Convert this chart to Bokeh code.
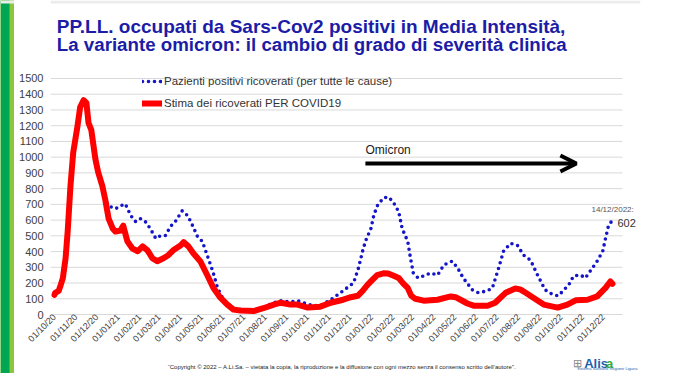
import math
import pandas as pd
from bokeh.plotting import figure
from bokeh.layouts import row, column
from bokeh.models import (Range1d, FixedTicker, DatetimeTickFormatter, Label, Arrow,
                          OpenHead, Legend, LegendItem, ColumnDataSource)
from bokeh.embed import file_html
from bokeh.resources import INLINE

# ---------------- data ----------------
red_dates = ["2020-10-01", "2020-10-02", "2020-10-07", "2020-10-10", "2020-10-13", "2020-10-17",
             "2020-10-20", "2020-10-24", "2020-10-28", "2020-11-03", "2020-11-07", "2020-11-12",
             "2020-11-16", "2020-11-19", "2020-11-23", "2020-11-29", "2020-12-03", "2020-12-09",
             "2020-12-13", "2020-12-18", "2020-12-24", "2020-12-28", "2021-01-04", "2021-01-08",
             "2021-01-14", "2021-01-21", "2021-01-29", "2021-02-05", "2021-02-12", "2021-02-19",
             "2021-02-26", "2021-03-07", "2021-03-14", "2021-03-21", "2021-04-01", "2021-04-05",
             "2021-04-12", "2021-04-19", "2021-04-29", "2021-05-09", "2021-05-18", "2021-05-28",
             "2021-06-07", "2021-06-16", "2021-06-26", "2021-07-15", "2021-07-29", "2021-08-13",
             "2021-08-23", "2021-09-06", "2021-09-16", "2021-10-01", "2021-10-19", "2021-11-03",
             "2021-11-21", "2021-12-02", "2021-12-12", "2021-12-19", "2021-12-26", "2022-01-02",
             "2022-01-09", "2022-01-18", "2022-01-25", "2022-02-01", "2022-02-09", "2022-02-16",
             "2022-02-22", "2022-02-27", "2022-03-05", "2022-03-17", "2022-04-06", "2022-04-25",
             "2022-05-02", "2022-05-09", "2022-05-19", "2022-05-28", "2022-06-17", "2022-06-28",
             "2022-07-13", "2022-07-27", "2022-08-03", "2022-08-11", "2022-08-22", "2022-09-06",
             "2022-09-26", "2022-10-10", "2022-10-22", "2022-11-08", "2022-11-22", "2022-12-04",
             "2022-12-11", "2022-12-14"]
red_values = [125, 138, 150, 188, 230, 358,
              527, 816, 1030, 1193, 1318, 1362,
              1345, 1218, 1174, 986, 904, 816,
              734, 609, 546, 527, 534, 565,
              465, 421, 402, 433, 408, 358,
              339, 358, 377, 408, 440, 460,
              433, 389, 339, 251, 169, 107,
              63, 31, 25, 22, 40, 63,
              75, 63, 63, 44, 50, 75,
              94, 110, 119, 150, 188, 220,
              251, 262, 260, 248, 232, 195,
              169, 120, 100, 88, 94, 115,
              110, 94, 70, 56, 56, 75,
              138, 165, 160, 138, 107, 63,
              44, 63, 90, 94, 115, 169,
              210, 195]

blue_dates = ["2020-10-01", "2020-10-02", "2020-10-07", "2020-10-10", "2020-10-13", "2020-10-17",
              "2020-10-20", "2020-10-24", "2020-10-28", "2020-11-03", "2020-11-07", "2020-11-12",
              "2020-11-16", "2020-11-19", "2020-11-23", "2020-11-29", "2020-12-03", "2020-12-09",
              "2020-12-13", "2020-12-18", "2020-12-21", "2020-12-28", "2021-01-04", "2021-01-11",
              "2021-01-19", "2021-01-26", "2021-02-02", "2021-02-09", "2021-02-16", "2021-02-24",
              "2021-03-03", "2021-03-10", "2021-03-17", "2021-03-24", "2021-04-03", "2021-04-11",
              "2021-04-18", "2021-04-25", "2021-05-02", "2021-05-09", "2021-05-17", "2021-05-24",
              "2021-05-31", "2021-06-09", "2021-06-19", "2021-07-03", "2021-07-18", "2021-08-01",
              "2021-08-13", "2021-08-23", "2021-09-06", "2021-09-16", "2021-10-05", "2021-10-19",
              "2021-11-03", "2021-11-21", "2021-12-06", "2021-12-13", "2021-12-20", "2021-12-26",
              "2021-12-30", "2022-01-04", "2022-01-09", "2022-01-18", "2022-01-25", "2022-02-01",
              "2022-02-09", "2022-02-14", "2022-02-22", "2022-02-26", "2022-03-02", "2022-03-09",
              "2022-03-17", "2022-03-27", "2022-04-06", "2022-04-15", "2022-04-20", "2022-04-27",
              "2022-05-05", "2022-05-13", "2022-05-26", "2022-06-04", "2022-06-17", "2022-06-24",
              "2022-07-03", "2022-07-10", "2022-07-20", "2022-07-30", "2022-08-08", "2022-08-18",
              "2022-08-28", "2022-09-08", "2022-09-19", "2022-09-27", "2022-10-04", "2022-10-12",
              "2022-10-19", "2022-10-29", "2022-11-05", "2022-11-12", "2022-11-22", "2022-11-30",
              "2022-12-04", "2022-12-08", "2022-12-14"]
blue_values = [125, 138, 150, 188, 230, 358,
               527, 816, 1030, 1193, 1318, 1362,
               1345, 1218, 1174, 986, 904, 816,
               734, 690, 684, 672, 690, 703,
               628, 590, 609, 590, 546, 483,
               502, 502, 559, 590, 659, 628,
               565, 496, 465, 377, 276, 169,
               107, 63, 35, 28, 28, 50,
               75, 88, 80, 88, 60, 55,
               94, 151, 201, 295, 421, 502,
               527, 628, 690, 741, 747, 716,
               653, 546, 465, 358, 264, 232,
               245, 264, 251, 314, 326, 339,
               295, 232, 157, 138, 151, 169,
               295, 402, 452, 440, 377, 345,
               251, 157, 126, 119, 151, 188,
               245, 251, 232, 276, 339, 402,
               483, 559, 602]

tick_dates = ["2020-10-01", "2020-11-01", "2020-12-01", "2021-01-01", "2021-02-01", "2021-03-01",
              "2021-04-01", "2021-05-01", "2021-06-01", "2021-07-01", "2021-08-01", "2021-09-01",
              "2021-10-01", "2021-11-01", "2021-12-01", "2022-01-01", "2022-02-01", "2022-03-01",
              "2022-04-01", "2022-05-01", "2022-06-01", "2022-07-01", "2022-08-01", "2022-09-01",
              "2022-10-01", "2022-11-01", "2022-12-01"]
y_ticks = [0, 100, 200, 300, 400, 500, 600, 700, 800, 900, 1000, 1100, 1200, 1300, 1400, 1500]

title_lines = ["PP.LL. occupati da Sars-Cov2 positivi in Media Intensità,",
               "La variante omicron: il cambio di grado di severità clinica"]
blue_label = "Pazienti positivi ricoverati (per tutte le cause)"
red_label = "Stima dei ricoverati PER COVID19"
omicron_start, omicron_end, omicron_level = "2021-12-23", "2022-10-23", 960
last_date_text, last_value_text = "14/12/2022:", "602"
copyright_text = ("\u201cCopyright \u00a9 2022 \u2013 A.Li.Sa. \u2013 vietata la copia, la riproduzione "
                  "e la diffusione con ogni mezzo senza il consenso scritto dell\u2019autore\u201d.")

FONT = "Liberation Sans"
X_START, X_END, GRID_END = "2020-09-25 06:00", "2023-01-23 10:00", "2022-12-28 10:00"


def ms(d):
    return pd.Timestamp(d).value / 1e6


def canvas(w, h, bg="white"):
    f = figure(width=w, height=h, x_range=Range1d(0, w), y_range=Range1d(0, h),
               output_backend="svg", toolbar_location=None, min_border=0)
    f.axis.visible = False
    f.grid.grid_line_color = None
    f.outline_line_color = None
    f.background_fill_color = bg
    f.border_fill_color = bg
    return f


def clabel(f, ox, oy, text, X, Y, size, color, bold=False, align="left"):
    # X, Y are picture pixels; (ox, oy) is the canvas' top-left in the picture
    f.add_layout(Label(x=X - ox, y=f.height - (Y - oy), text=text, text_font=FONT,
                       text_font_size=f"{size}px", text_color=color,
                       text_font_style="bold" if bold else "normal",
                       text_align=align, text_baseline="alphabetic"))


# ---------------- green side bar ----------------
side = canvas(14, 373, bg="#8cc63f")
side.quad(left=[0], right=[9], bottom=[0], top=[373], fill_color="#00a651", line_color=None)
side.quad(left=[0], right=[14], bottom=[370], top=[373], fill_color="#ececec", line_color=None)

# ---------------- title ----------------
top = canvas(650, 70)
top.quad(left=[0], right=[650], bottom=[67], top=[70], fill_color="#ececec", line_color=None)
clabel(top, 14, 0, title_lines[0], 21, 26, 19, "#1c1ca6", bold=True)
clabel(top, 14, 0, title_lines[1], 21, 44, 18.7, "#1c1ca6", bold=True)

# ---------------- main chart ----------------
red_src = ColumnDataSource(dict(x=pd.to_datetime(red_dates), y=red_values))
blue_src = ColumnDataSource(dict(x=pd.to_datetime(blue_dates), y=blue_values))

MAIN_BOTTOM = 350
px_per_unit = 239 / 1500.0
p = figure(width=650, height=MAIN_BOTTOM - 70, output_backend="svg", toolbar_location=None,
           x_axis_type="datetime",
           x_range=Range1d(ms(X_START), ms(X_END)),
           y_range=Range1d(-1 / px_per_unit, 1500 + 1 / px_per_unit),
           min_border_left=36, min_border_right=24, min_border_top=7,
           min_border_bottom=MAIN_BOTTOM - 318)
p.outline_line_color = None
p.background_fill_color = "white"
p.border_fill_color = "white"
p.grid.grid_line_color = None

# horizontal grid lines (Excel plot area ends before the last annotation)
p.segment(x0=[ms(X_START)] * len(y_ticks), x1=[ms(GRID_END)] * len(y_ticks),
          y0=y_ticks, y1=y_ticks, line_color="#d9d9d9", line_width=1)

p.yaxis.ticker = FixedTicker(ticks=y_ticks)
p.yaxis.axis_line_color = None
p.yaxis.major_tick_line_color = None
p.yaxis.minor_tick_line_color = None
p.yaxis.major_tick_out = 0
p.yaxis.major_tick_in = 0
p.yaxis.major_label_text_font = FONT
p.yaxis.major_label_text_font_size = "11px"
p.yaxis.major_label_text_color = "#404040"
p.yaxis.major_label_standoff = 7

p.xaxis.ticker = FixedTicker(ticks=[ms(d) for d in tick_dates])
fmt = "%d/%m/%y"
p.xaxis.formatter = DatetimeTickFormatter(milliseconds=fmt, seconds=fmt, minsec=fmt, minutes=fmt,
                                          hourmin=fmt, hours=fmt, days=fmt, months=fmt, years=fmt)
p.xaxis.axis_line_color = None
p.xaxis.major_tick_line_color = None
p.xaxis.minor_tick_line_color = None
p.xaxis.major_tick_out = 0
p.xaxis.major_tick_in = 0
p.xaxis.major_label_orientation = math.pi / 4
p.xaxis.major_label_text_font = FONT
p.xaxis.major_label_text_font_size = "9px"
p.xaxis.major_label_text_color = "#404040"
p.xaxis.major_label_standoff = 0

blue_r = p.line("x", "y", source=blue_src, line_color="#1414c8", line_width=3.6,
                line_dash="0 6", line_cap="round")
red_r = p.line("x", "y", source=red_src, line_color="#ff0000", line_width=6,
               line_join="round", line_cap="round")

legend = Legend(items=[LegendItem(label=blue_label, renderers=[blue_r]),
                       LegendItem(label=red_label, renderers=[red_r])],
                location=(92, 202), orientation="vertical",
                background_fill_alpha=0, border_line_color=None, padding=0, margin=0,
                spacing=2, glyph_width=20, glyph_height=20, label_height=20,
                label_standoff=2, label_text_font=FONT, label_text_font_size="11.5px",
                label_text_color="#333333")
p.add_layout(legend)

p.add_layout(Arrow(x_start=ms(omicron_start), y_start=omicron_level,
                   x_end=ms(omicron_end), y_end=omicron_level,
                   line_width=4, line_color="black",
                   end=OpenHead(size=16, line_width=4, line_color="black")))
p.add_layout(Label(x=ms(omicron_start), y=omicron_level + 38, text="Omicron",
                   text_font=FONT, text_font_size="12px", text_color="#1a1a1a"))


def flabel(text, X, Y, size, color):
    # picture pixels -> frame-relative screen units (frame left = 50, frame bottom = 318)
    p.add_layout(Label(x=X - 50, y=318 - Y, x_units="screen", y_units="screen", text=text,
                       text_font=FONT, text_font_size=f"{size}px", text_color=color,
                       text_baseline="alphabetic"))


flabel(last_date_text, 591, 212, 8, "#555555")
flabel(last_value_text, 617, 225, 11, "#333333")

# ---------------- footer ----------------
foot = canvas(650, 373 - MAIN_BOTTOM)
clabel(foot, 14, MAIN_BOTTOM, copyright_text, 335, 366, 6, "#222222", align="center")
clabel(foot, 14, MAIN_BOTTOM, "\u229e", 590, 362, 11, "#8a8a8a")
clabel(foot, 14, MAIN_BOTTOM, "Alis", 602, 363, 13, "#1f5fae", bold=True)
clabel(foot, 14, MAIN_BOTTOM, "a", 626, 363, 13, "#3aa935", bold=True)
clabel(foot, 14, MAIN_BOTTOM, "Sistema Sanitario Regione Liguria", 594, 367.5, 4, "#1f5fae")

layout = row(side, column(top, p, foot, spacing=0), spacing=0)
open("out.html", "w").write(file_html(layout, INLINE))
